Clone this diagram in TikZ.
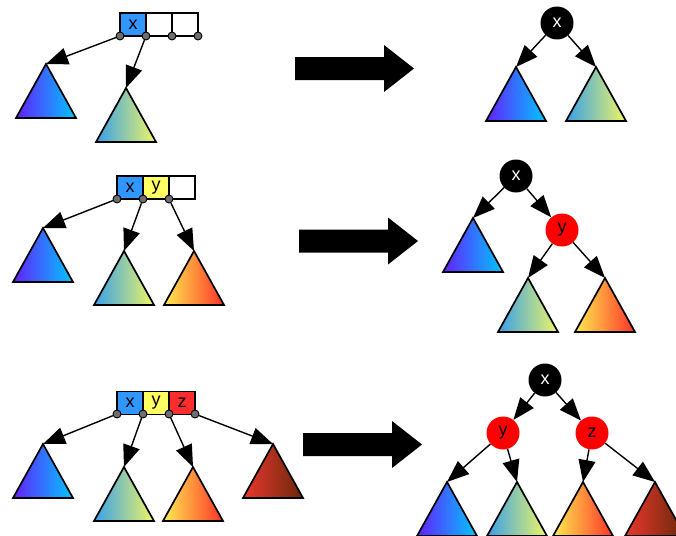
\documentclass[tikz,border=0pt]{standalone}
\usepackage{fontspec}
\setmainfont{Liberation Sans}
\usetikzlibrary{arrows.meta}
\definecolor{cblue}{RGB}{50,150,255}
\definecolor{cyel}{RGB}{255,255,100}
\definecolor{cred}{RGB}{255,45,45}
\definecolor{tAl}{RGB}{100,30,255}
\definecolor{tAr}{RGB}{0,200,255}
\definecolor{tBl}{RGB}{55,160,235}
\definecolor{tBr}{RGB}{240,245,100}
\definecolor{tCl}{RGB}{255,235,80}
\definecolor{tCr}{RGB}{255,50,40}
\definecolor{tDl}{RGB}{235,55,45}
\definecolor{tDr}{RGB}{105,40,10}
\definecolor{portgray}{RGB}{110,110,110}
\tikzset{
  cell/.style={draw, line width=1.5pt, minimum width=26pt, minimum height=23pt, inner sep=0pt, font=\fontsize{18}{18}\selectfont},
  port/.style={circle, draw, fill=portgray, minimum size=8pt, inner sep=0pt, line width=0.9pt},
  conn/.style={line width=1.4pt, -{Triangle[length=22pt,width=17pt]}},
  rbn/.style={circle, minimum size=33pt, inner sep=0pt, font=\fontsize{18}{18}\selectfont},
  blkn/.style={rbn, fill=black, text=white},
  redn/.style={rbn, fill=red, text=black},
  triA/.style={left color=tAl, right color=tAr},
  triB/.style={left color=tBl, right color=tBr},
  triC/.style={left color=tCl, right color=tCr},
  triD/.style={left color=tDl, right color=tDr},
  bigarrow/.style={fill=black}
}
\newcommand\mytri[4]{%
  \coordinate (#1) at (#2,#3);
  \draw[line width=1.7pt, line join=miter, #4] (#2,#3) -- ++(30,54) -- ++(-60,0) -- cycle;
}
\newcommand\bigarr[3]{% x start, x tip, y center
  \fill[bigarrow] (#1,#3-11.5) -- (#2-30,#3-11.5) -- (#2-30,#3-23.5) -- (#2,#3) -- (#2-30,#3+23.5) -- (#2-30,#3+11.5) -- (#1,#3+11.5) -- cycle;
}
\begin{document}
\begin{tikzpicture}[x=1pt,y=-1pt]
\useasboundingbox (0,0) rectangle (676,535);
\clip (0,0) rectangle (676,535);

% ---------------- Row 1 ----------------
\mytri{a1}{46}{64}{triA}
\mytri{a2}{126}{88}{triB}
\node[cell, fill=cblue] (r1c1) at (133,24.5) {x};
\node[cell, fill=white] (r1c2) at (159,24.5) {};
\node[cell, fill=white] (r1c3) at (185,24.5) {};
\node[port] (r1p1) at (120,36) {};
\node[port] (r1p2) at (146,36) {};
\node[port] (r1p3) at (172,36) {};
\node[port] (r1p4) at (198,36) {};
\draw[conn] (r1p1) -- (a1);
\draw[conn] (r1p2) -- (a2);
\bigarr{295}{414}{68.5}
\mytri{b1}{516}{67}{triA}
\mytri{b2}{596}{67}{triB}
\node[blkn] (rx1) at (557,23) {x};
\draw[conn] (rx1) -- (b1);
\draw[conn] (rx1) -- (b2);

% ---------------- Row 2 ----------------
\mytri{c1}{43}{228}{triA}
\mytri{c2}{124}{251}{triB}
\mytri{c3}{194}{251}{triC}
\node[cell, fill=cblue] (r2c1) at (130,187.5) {x};
\node[cell, fill=cyel] (r2c2) at (156,187.5) {y};
\node[cell, fill=white] (r2c3) at (182,187.5) {};
\node[port] (r2p1) at (117,199) {};
\node[port] (r2p2) at (143,199) {};
\node[port] (r2p3) at (169,199) {};
\draw[conn] (r2p1) -- (c1);
\draw[conn] (r2p2) -- (c2);
\draw[conn] (r2p3) -- (c3);
\bigarr{299}{418}{241}
\mytri{d1}{473}{218}{triA}
\mytri{d2}{528}{278}{triB}
\mytri{d3}{605}{278}{triC}
\node[blkn] (rx2) at (516,176) {x};
\node[redn] (ry2) at (562,230) {y};
\draw[conn] (rx2) -- (d1);
\draw[conn] (rx2) -- (ry2);
\draw[conn] (ry2) -- (d2);
\draw[conn] (ry2) -- (d3);

% ---------------- Row 3 ----------------
\mytri{e1}{43}{444}{triA}
\mytri{e2}{124}{467}{triB}
\mytri{e3}{193}{467}{triC}
\mytri{e4}{273}{444}{triD}
\node[cell, fill=cblue] (r3c1) at (130,403) {x};
\node[cell, fill=cyel] (r3c2) at (156,403) {y};
\node[cell, fill=cred] (r3c3) at (182,403) {z};
\node[port] (r3p1) at (117,414) {};
\node[port] (r3p2) at (143,414) {};
\node[port] (r3p3) at (169,414) {};
\node[port] (r3p4) at (195,414) {};
\draw[conn] (r3p1) -- (e1);
\draw[conn] (r3p2) -- (e2);
\draw[conn] (r3p3) -- (e3);
\draw[conn] (r3p4) -- (e4);
\bigarr{303}{422}{444.5}
\mytri{f1}{447}{482}{triA}
\mytri{f2}{517}{482}{triB}
\mytri{f3}{583}{482}{triC}
\mytri{f4}{655}{482}{triD}
\node[blkn] (rx3) at (545,380) {x};
\node[redn] (ry3) at (503,433) {y};
\node[redn] (rz3) at (592,433) {z};
\draw[conn] (rx3) -- (ry3);
\draw[conn] (rx3) -- (rz3);
\draw[conn] (ry3) -- (f1);
\draw[conn] (ry3) -- (f2);
\draw[conn] (rz3) -- (f3);
\draw[conn] (rz3) -- (f4);
\end{tikzpicture}
\end{document}
